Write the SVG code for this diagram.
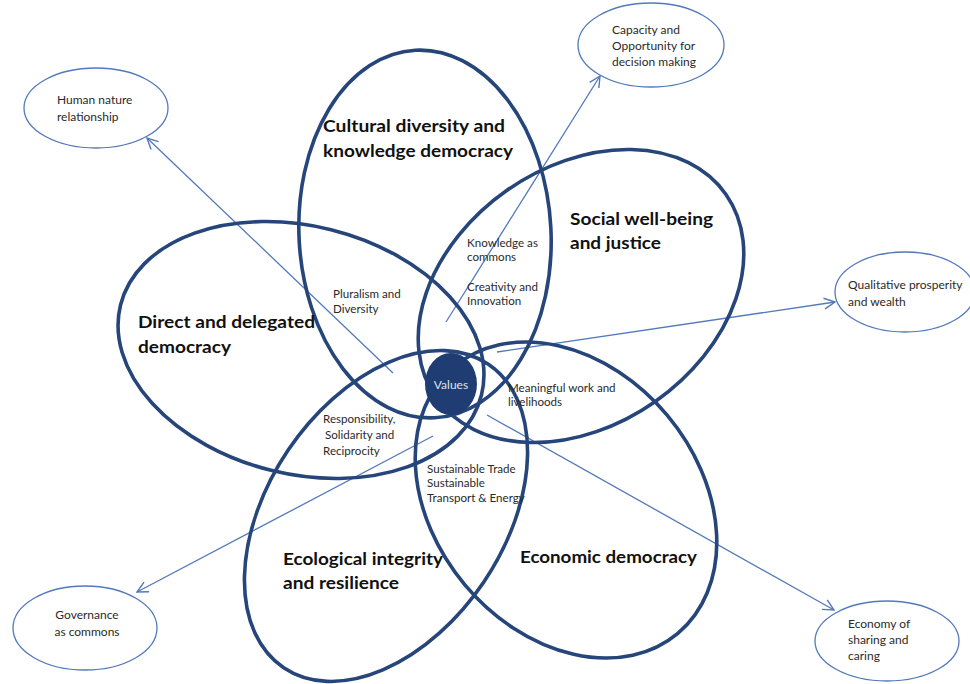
<svg xmlns="http://www.w3.org/2000/svg" width="970" height="684" viewBox="0 0 970 684">
<defs>
<style>
.big{fill:none;stroke:#26457a;stroke-width:3.6}
.out{fill:#fff;stroke:#5279bb;stroke-width:1.3}
.con{stroke:#5279bb;stroke-width:1.3;fill:none}
.bl{font-family:Lato,"Liberation Sans",sans-serif;font-weight:bold;font-size:17px;fill:#111}
.sm{font-family:Lato,"Liberation Sans",sans-serif;font-size:11.6px;fill:#2a2a2a}
.ol{font-family:Lato,"Liberation Sans",sans-serif;font-size:12px;fill:#2a2a2a}
</style>
<marker id="arr" viewBox="0 0 12 12" refX="11" refY="6" markerWidth="13" markerHeight="13" markerUnits="userSpaceOnUse" orient="auto">
<path d="M1,1 L11,6 L1,11" fill="none" stroke="#5279bb" stroke-width="1.3"/>
</marker>
</defs>
<rect width="970" height="684" fill="#fff"/>

<g id="outer-human">
<ellipse class="out" cx="96" cy="108" rx="72" ry="40"/>
<text class="ol" x="57" y="104">Human nature</text>
<text class="ol" x="57" y="121">relationship</text>
</g>
<g id="outer-capacity">
<ellipse class="out" cx="651" cy="45" rx="73" ry="42"/>
<text class="ol" x="612" y="34">Capacity and</text>
<text class="ol" x="612" y="50">Opportunity for</text>
<text class="ol" x="612" y="66">decision making</text>
</g>
<g id="outer-qualitative">
<ellipse class="out" cx="905" cy="292" rx="70" ry="40"/>
<text class="ol" x="848" y="289">Qualitative prosperity</text>
<text class="ol" x="848" y="306">and wealth</text>
</g>
<g id="outer-governance">
<ellipse class="out" cx="85" cy="628" rx="72" ry="42"/>
<text class="ol" x="87" y="619" text-anchor="middle">Governance</text>
<text class="ol" x="87" y="636" text-anchor="middle">as commons</text>
</g>
<g id="outer-economy">
<ellipse class="out" cx="887" cy="641" rx="72" ry="40"/>
<text class="ol" x="848" y="628">Economy of</text>
<text class="ol" x="848" y="644">sharing and</text>
<text class="ol" x="848" y="660">caring</text>
</g>

<g id="connectors">
<line class="con" x1="393" y1="373" x2="147" y2="138" marker-end="url(#arr)"/>
<line class="con" x1="446" y1="322" x2="600" y2="76" marker-end="url(#arr)"/>
<line class="con" x1="497" y1="352" x2="835" y2="302" marker-end="url(#arr)"/>
<line class="con" x1="433" y1="436" x2="137" y2="592" marker-end="url(#arr)"/>
<line class="con" x1="487" y1="415" x2="834" y2="610" marker-end="url(#arr)"/>
</g>

<g id="cultural">
<ellipse class="big" cx="0" cy="0" rx="126" ry="184" transform="translate(425 234) rotate(-3)"/>
<text class="bl" x="323" y="132" textLength="182" lengthAdjust="spacingAndGlyphs">Cultural diversity and</text>
<text class="bl" x="323" y="157" textLength="190" lengthAdjust="spacingAndGlyphs">knowledge democracy</text>
</g>
<g id="social">
<ellipse class="big" cx="0" cy="0" rx="177" ry="129" transform="translate(581 296) rotate(-35)"/>
<text class="bl" x="570" y="225" textLength="143" lengthAdjust="spacingAndGlyphs">Social well-being</text>
<text class="bl" x="570" y="249" textLength="91" lengthAdjust="spacingAndGlyphs">and justice</text>
</g>
<g id="direct">
<ellipse class="big" cx="0" cy="0" rx="186" ry="124" transform="translate(301 350) rotate(14)"/>
<text class="bl" x="138" y="328" textLength="177" lengthAdjust="spacingAndGlyphs">Direct and delegated</text>
<text class="bl" x="138" y="353" textLength="93" lengthAdjust="spacingAndGlyphs">democracy</text>
</g>
<g id="ecological">
<ellipse class="big" cx="0" cy="0" rx="183" ry="118" transform="translate(386 516) rotate(-56)"/>
<text class="bl" x="283" y="565" textLength="160" lengthAdjust="spacingAndGlyphs">Ecological integrity</text>
<text class="bl" x="283" y="589" textLength="116" lengthAdjust="spacingAndGlyphs">and resilience</text>
</g>
<g id="economic">
<ellipse class="big" cx="0" cy="0" rx="174" ry="132" transform="translate(566 500) rotate(50)"/>
<text class="bl" x="520" y="563" textLength="177" lengthAdjust="spacingAndGlyphs">Economic democracy</text>
</g>

<g id="overlap-labels">
<text class="sm" x="333" y="298">Pluralism and</text>
<text class="sm" x="333" y="313">Diversity</text>
<text class="sm" x="467" y="247">Knowledge as</text>
<text class="sm" x="467" y="261">commons</text>
<text class="sm" x="467" y="291">Creativity and</text>
<text class="sm" x="467" y="305">Innovation</text>
<text class="sm" x="508" y="392">Meaningful work and</text>
<text class="sm" x="508" y="406">livelihoods</text>
<text class="sm" x="323" y="423">Responsibility,</text>
<text class="sm" x="325" y="439">Solidarity and</text>
<text class="sm" x="323" y="455">Reciprocity</text>
<text class="sm" x="427" y="473">Sustainable Trade</text>
<text class="sm" x="427" y="487">Sustainable</text>
<text class="sm" x="427" y="502">Transport &amp; Energy</text>
</g>

<g id="values">
<ellipse cx="451" cy="384" rx="26" ry="31" fill="#1f3d72"/>
<text x="451" y="389" text-anchor="middle" style="font-family:Lato,'Liberation Sans',sans-serif;font-size:12px;fill:#dde4f0">Values</text>
</g>
</svg>
